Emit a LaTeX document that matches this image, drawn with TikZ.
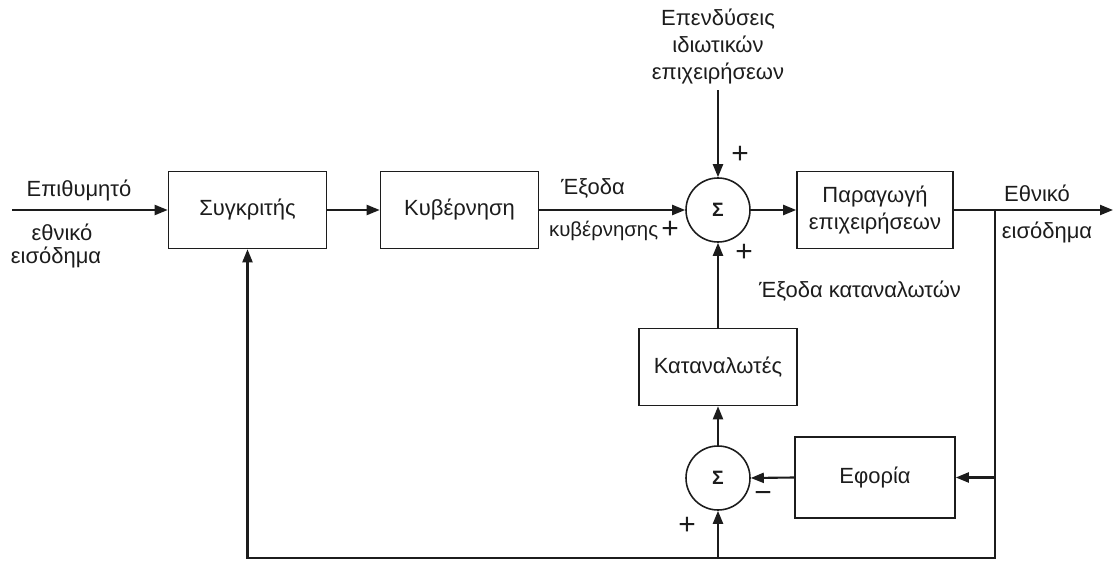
\documentclass[tikz,border=0pt]{standalone}
\usepackage{fontspec}
\setmainfont{Liberation Sans}
\usepackage{xcolor}
\usetikzlibrary{arrows.meta, positioning}
\definecolor{inkline}{HTML}{1c1c1c}

\begin{document}
\begin{tikzpicture}[
  every node/.style={font=\fontsize{12.5}{15.3}\selectfont, color=inkline},
  block/.style={draw, line width=0.9pt, minimum width=3.16cm, minimum height=1.54cm,
                align=center, inner sep=2pt},
  summer/.style={draw, circle, line width=0.9pt, minimum size=1.28cm, inner sep=0pt,
                 font=\fontsize{11}{11}\selectfont\bfseries},
  sign/.style={font=\fontsize{17}{17}\selectfont},
  label/.style={align=center},
  arrow/.style={-{Triangle[length=2.6mm, width=2mm]}, line width=1.2pt, color=inkline},
]
\useasboundingbox (0,0) rectangle (22.28,-11.26);

% Forward path
\node[block] (comp) at (4.95,-4.2) {Συγκριτής};
\node[block] (gov) at (9.19,-4.2) {Κυβέρνηση};
\node[summer] (sum1) at (14.36,-4.2) {Σ};
\node[block, minimum width=3.12cm] (prod) at (17.5,-4.2) {Παραγωγή\\επιχειρήσεων};

% Consumers loop
\node[block] (cons) at (14.36,-7.34) {Καταναλωτές};
\node[summer] (sum2) at (14.36,-9.56) {Σ};
\node[block, minimum width=3.2cm, minimum height=1.62cm] (tax) at (17.5,-9.55) {Εφορία};

% Free ends and corners
\coordinate (in) at (0.24,-4.2);
\coordinate (out) at (22.26,-4.2);
\coordinate (branch) at (19.9,-4.2);
\coordinate (corner) at (19.9,-11.16);

% Texts
\node[label] (invest) at (14.36,-0.93) {Επενδύσεις\\ιδιωτικών\\επιχειρήσεων};
\node (goal1) at (1.58,-3.8) {Επιθυμητό};
\node (goal2) at (1.24,-4.64) {εθνικό};
\node (goal3) at (1.12,-5.14) {εισόδημα};
\node (govout1) at (11.86,-3.76) {Έξοδα};
\node[anchor=west, inner sep=1pt, font=\fontsize{11.6}{14}\selectfont] (govout2) at (10.94,-4.62) {κυβέρνησης};
\node (nat1) at (20.74,-3.86) {Εθνικό};
\node (nat2) at (20.94,-4.64) {εισόδημα};
\node (consout) at (17.2,-5.82) {Έξοδα καταναλωτών};

% Signs
\node[sign] (plustop) at (14.8,-3.1) {+};
\node[sign, inner sep=1pt] (plusleft) at (13.4,-4.6) {+};
\node[sign] (plusbot) at (14.88,-5.06) {+};
\node[sign] (minus) at (15.26,-9.94) {−};
\node[sign] (plusfb) at (13.74,-10.52) {+};

% Arrows
\draw[arrow] (in) -- (comp);
\draw[arrow] (comp) -- (gov);
\draw[arrow] (gov) -- (sum1);
\draw[arrow] (sum1) -- (prod);
\draw[arrow] (prod.east) -- (out);
\draw[arrow] (invest.south) -- (sum1.north);
\draw[arrow] (cons) -- (sum1);
\draw[arrow] (sum2) -- (cons);
\draw[arrow] (tax.west) -- (sum2.east);

% Feedback
\draw[arrow] (branch) -- (corner) -| (comp.south);
\draw[arrow] (tax.east -| branch) -- (tax.east);
\draw[arrow] (sum2.south |- corner) -- (sum2.south);

\end{tikzpicture}
\end{document}
